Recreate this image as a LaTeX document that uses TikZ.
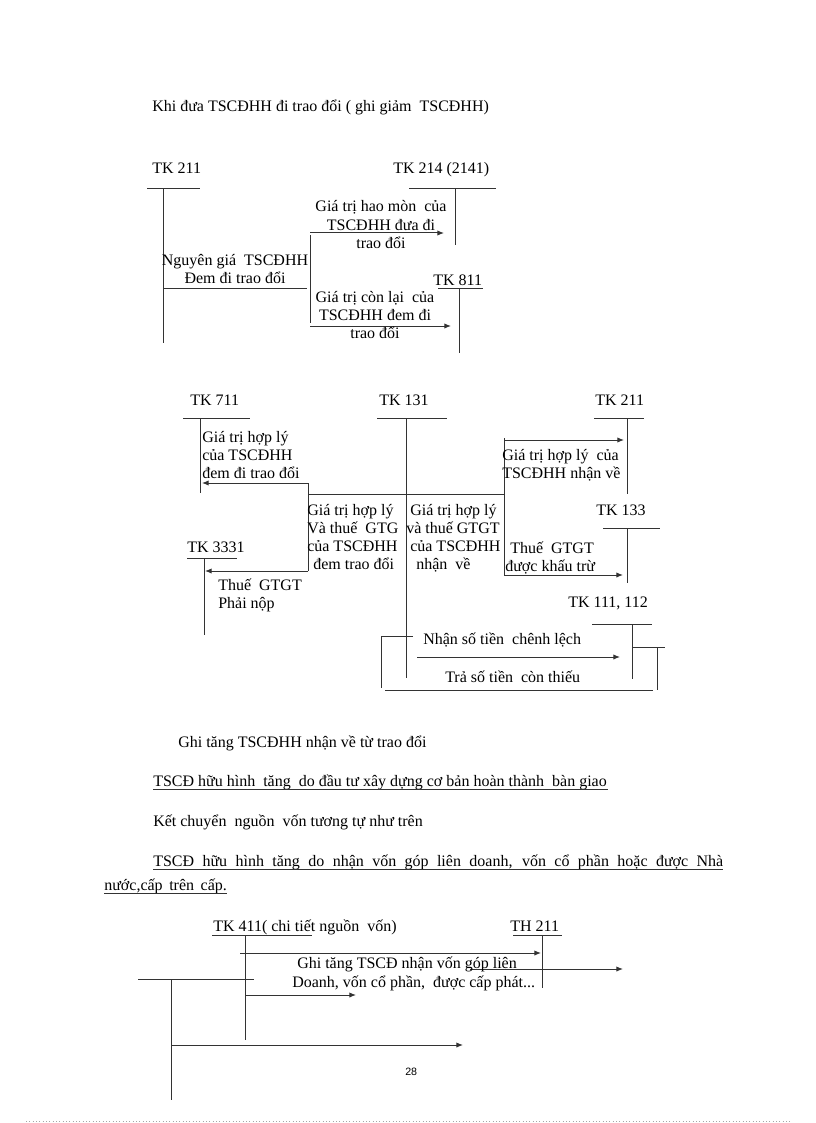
\documentclass[tikz,border=0pt]{standalone}
\usepackage{fontspec}
\setmainfont{Liberation Serif}
\newfontfamily\pagenumfont{Liberation Sans}
\usetikzlibrary{arrows.meta}
\newcommand{\tf}{\fontsize{12}{14}\selectfont}
\begin{document}
\begin{tikzpicture}[x=0.75pt,y=-0.75pt,
  ln/.style={line width=0.75pt,draw=black!80},
  arr/.style={ln,-{Latex[length=5pt,width=4pt]}},
  txt/.style={inner sep=0pt,anchor=base west,font=\tf},
  ctxt/.style={inner sep=0pt,anchor=base,font=\tf}]
\useasboundingbox (0,0) rectangle (816,1123);

% ---------- title
\node[txt] (title) at (152,112) {Khi đưa TSCĐHH đi trao đổi ( ghi giảm \ TSCĐHH)};

% ---------- section 1
\node[txt] (s1a211) at (152,174) {TK 211};
\draw[ln] (147,189) -- (200,189);
\draw[ln] (163,189) -- (163,343);
\node[txt] (s1a214) at (393,174) {TK 214 (2141)};
\draw[ln] (409,189) -- (496,189);
\draw[ln] (455,189) -- (455,245);
\node[txt] (s1a811) at (433,285) {TK 811};
\draw[ln] (438,288) -- (483,288);
\draw[ln] (459,288) -- (459,353);

\draw[ln] (163,288) -- (307,288);
\draw[ln] (310,235) -- (310,323);
\coordinate (s1p1) at (310,233);
\coordinate (s1q1) at (444,233);
\coordinate (s1p2) at (310,326);
\coordinate (s1q2) at (451,326);
\draw[arr] (s1p1) -- (s1q1);
\draw[arr] (s1p2) -- (s1q2);

\node[ctxt] (s1l1) at (381,212) {Giá trị hao mòn \ của};
\node[ctxt] (s1l2) at (381,230) {TSCĐHH đưa đi};
\node[ctxt] (s1l3) at (381,248) {trao đổi};
\node[ctxt] (s1l4) at (235,265) {Nguyên giá \ TSCĐHH};
\node[ctxt] (s1l5) at (235,283) {Đem đi trao đổi};
\node[ctxt] (s1l6) at (375,302) {Giá trị còn lại \ của};
\node[ctxt] (s1l7) at (375,320) {TSCĐHH đem đi};
\node[ctxt] (s1l8) at (375,338) {trao đổi};

% ---------- section 2
\node[txt] (s2a711) at (190,405) {TK 711};
\draw[ln] (183,418) -- (250,418);
\draw[ln] (200,418) -- (200,493);
\node[txt] (s2a131) at (379,405) {TK 131};
\draw[ln] (377,418) -- (447,418);
\draw[ln] (406,418) -- (406,678);
\node[txt] (s2a211) at (595,405) {TK 211};
\draw[ln] (594,418) -- (644,418);
\draw[ln] (627,418) -- (627,494);
\node[txt] (s2a133) at (596,515) {TK 133};
\draw[ln] (603,528) -- (660,528);
\draw[ln] (627,528) -- (627,583);
\node[txt] (s2a3331) at (187,552) {TK 3331};
\draw[ln] (187,558) -- (237,558);
\draw[ln] (204,558) -- (204,635);
\node[txt] (s2a111) at (568,607) {TK 111, 112};
\draw[ln] (592,624) -- (652,624);
\draw[ln] (632,624) -- (632,679);

\draw[ln] (308,494) -- (504,494);
\draw[ln] (308,483) -- (308,571);
\draw[ln] (504,438) -- (504,575);
\coordinate (s2p1) at (308,483);
\coordinate (s2q1) at (202,483);
\coordinate (s2p2) at (308,571);
\coordinate (s2q2) at (205,571);
\coordinate (s2p3) at (504,440);
\coordinate (s2q3) at (624,440);
\coordinate (s2p4) at (504,575);
\coordinate (s2q4) at (623,575);
\draw[arr] (s2p1) -- (s2q1);
\draw[arr] (s2p2) -- (s2q2);
\draw[arr] (s2p3) -- (s2q3);
\draw[arr] (s2p4) -- (s2q4);

% cash bracket
\draw[ln] (413,636) -- (381,636) -- (381,688);
\draw[ln] (385,690) -- (653,690);
\draw[ln] (632,647) -- (665,647);
\draw[ln] (657,647) -- (657,690);
\coordinate (s2p5) at (417,657);
\coordinate (s2q5) at (620,657);
\draw[arr] (s2p5) -- (s2q5);

\node[txt] (s2l1) at (202,442) {Giá trị hợp lý};
\node[txt] (s2l2) at (202,460) {của TSCĐHH};
\node[txt] (s2l3) at (202,478) {đem đi trao đổi};
\node[txt] (s2l4) at (307,515) {Giá trị hợp lý};
\node[txt] (s2l5) at (307,533) {Và thuế \ GTG};
\node[txt] (s2l6) at (307,551) {của TSCĐHH};
\node[txt] (s2l7) at (313,569) {đem trao đổi};
\node[txt] (s2l8) at (410,515) {Giá trị hợp lý};
\node[txt] (s2l9) at (406,533) {và thuế GTGT};
\node[txt] (s2l10) at (410,551) {của TSCĐHH};
\node[txt] (s2l11) at (416,569) {nhận \ về};
\node[txt] (s2l12) at (502,460) {Giá trị hợp lý \ của};
\node[txt] (s2l13) at (502,478) {TSCĐHH nhận về};
\node[txt] (s2l14) at (510,553) {Thuế \ GTGT};
\node[txt] (s2l15) at (505,571) {được khấu trừ};
\node[txt] (s2l16) at (218,590) {Thuế \ GTGT};
\node[txt] (s2l17) at (218,608) {Phải nộp};
\node[txt] (s2l18) at (423,644) {Nhận số tiền \ chênh lệch};
\node[txt] (s2l19) at (445,682) {Trả số tiền \ còn thiếu};

% ---------- paragraphs
\node[txt] (p1) at (178,747) {Ghi tăng TSCĐHH nhận về từ trao đổi};
\node[txt] (p2) at (153,786) {TSCĐ hữu hình \ tăng \ do đầu tư xây dựng cơ bản hoàn thành \ bàn giao};
\draw[ln] (153,789) -- (608,789);
\node[txt] (p3) at (153,826) {Kết chuyển \ nguồn \ vốn tương tự như trên};
\node[txt] (p4) at (153,866) {\makebox[427.5pt][s]{TSCĐ hữu hình tăng do nhận vốn góp liên doanh, vốn cổ phần hoặc được Nhà}};
\draw[ln] (153,869) -- (723,869);
\node[txt] (p5) at (104,890) {\makebox[92pt][s]{nước,cấp trên cấp.}};
\draw[ln] (104,893) -- (227,893);

% ---------- bottom diagram
\node[txt] (b411) at (213,931) {TK 411( chi tiết nguồn \ vốn)};
\draw[ln] (212,935) -- (312,935);
\draw[ln] (245,935) -- (245,1040);
\node[txt] (b211) at (510,931) {TH 211};
\draw[ln] (513,935) -- (562,935);
\draw[ln] (542,935) -- (542,988);
\draw[ln] (138,979) -- (254,979);
\draw[ln] (171,979) -- (171,1100);
\coordinate (bp1) at (240,953);
\coordinate (bq1) at (541,953);
\coordinate (bp2) at (470,969);
\coordinate (bq2) at (623,969);
\coordinate (bp3) at (245,995);
\coordinate (bq3) at (356,995);
\coordinate (bp4) at (171,1045);
\coordinate (bq4) at (463,1045);
\draw[arr] (bp1) -- (bq1);
\draw[arr] (bp2) -- (bq2);
\draw[arr] (bp3) -- (bq3);
\draw[arr] (bp4) -- (bq4);
\node[txt] (bl1) at (297,968) {Ghi tăng TSCĐ nhận vốn góp liên};
\node[txt] (bl2) at (292,987) {Doanh, vốn cổ phần, \ được cấp phát...};

\node[inner sep=0pt,anchor=base west,font=\pagenumfont\fontsize{8}{10}\selectfont] (pgnum) at (405,1075) {28};
\draw[black!35,line width=0.5pt,dotted] (26,1121) -- (791,1121);
\end{tikzpicture}
\end{document}
